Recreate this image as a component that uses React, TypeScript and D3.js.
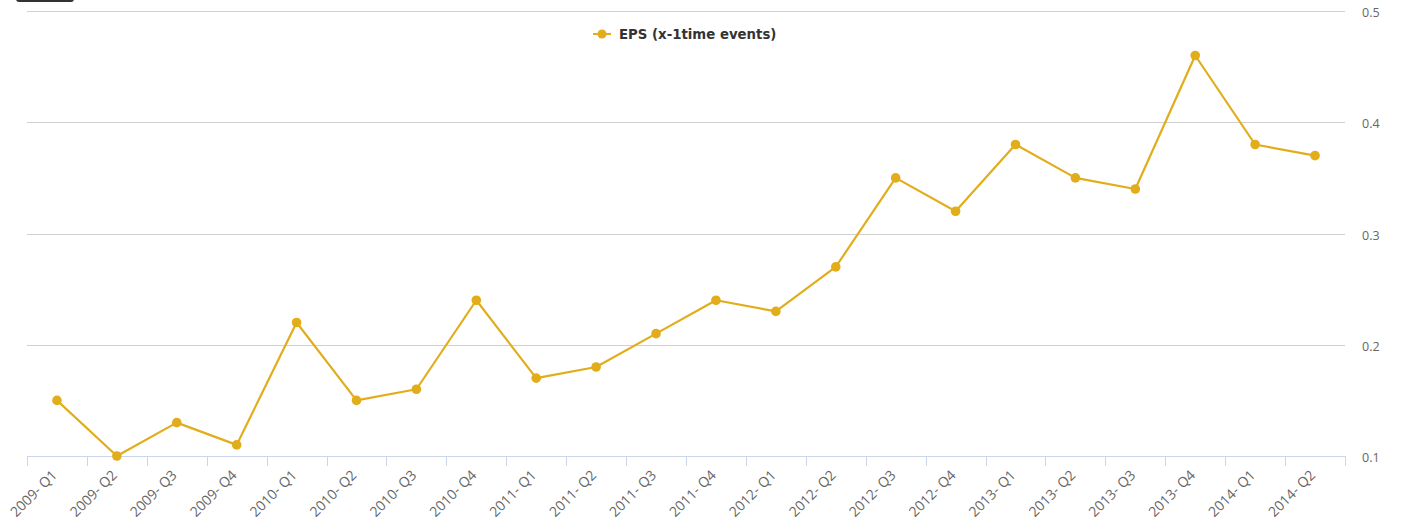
import React from 'react';
import * as d3 from 'd3';

const quarters = [
  '2009- Q1', '2009- Q2', '2009- Q3', '2009- Q4',
  '2010- Q1', '2010- Q2', '2010- Q3', '2010- Q4',
  '2011- Q1', '2011- Q2', '2011- Q3', '2011- Q4',
  '2012- Q1', '2012- Q2', '2012- Q3', '2012- Q4',
  '2013- Q1', '2013- Q2', '2013- Q3', '2013- Q4',
  '2014- Q1', '2014- Q2',
];
const eps = [
  0.15, 0.10, 0.13, 0.11,
  0.22, 0.15, 0.16, 0.24,
  0.17, 0.18, 0.21, 0.24,
  0.23, 0.27, 0.35, 0.32,
  0.38, 0.35, 0.34, 0.46,
  0.38, 0.37,
];
const yTicks = [0.1, 0.2, 0.3, 0.4, 0.5];
const seriesName = 'EPS (x-1time events)';

const W = 1406;
const H = 526;
const left = 27;
const right = 1345;
const top = 11;
const bottom = 456;
const color = '#e2ad1b';
const axisFont = '"Open Sans", "Noto Sans", sans-serif';
const legendFont = '"DejaVu Sans", Verdana, sans-serif';

export default function App() {
  const x = d3.scaleBand<string>().domain(quarters).range([left, right]);
  const y = d3.scaleLinear().domain([0.1, 0.5]).range([bottom, top]);
  const cx = (q: string) => (x(q) ?? 0) + x.bandwidth() / 2;

  const line = d3.line<number>()
    .x((_, i) => cx(quarters[i]))
    .y(d => y(d));

  const boundaries = quarters.map(q => x(q) ?? 0).concat([right]);

  return (
    <svg
      width={W}
      height={H}
      style={{ position: 'absolute', left: 0, top: 0, background: '#fff' }}
      fontFamily={axisFont}
    >
      {/* cut-off button at top left */}
      <rect x={16} y={-20} width={58} height={22} rx={3} fill="#333" />

      {/* grid */}
      {yTicks.filter(t => t !== 0.1).map(t => (
        <line key={t} x1={left} x2={right} y1={Math.round(y(t)) + 0.5} y2={Math.round(y(t)) + 0.5}
          stroke="#d0d0d0" strokeWidth={1} />
      ))}

      {/* x axis */}
      <line x1={left} x2={right} y1={bottom + 0.5} y2={bottom + 0.5} stroke="#ccd6eb" strokeWidth={1} />
      {boundaries.map((b, i) => (
        <line key={i} x1={Math.round(b) + 0.5} x2={Math.round(b) + 0.5} y1={bottom} y2={bottom + 10}
          stroke="#ccd6eb" strokeWidth={1} />
      ))}
      {quarters.map(q => (
        <text key={q}
          transform={`translate(${cx(q) + 1},${bottom + 20}) rotate(-45)`}
          textAnchor="end" fontSize={14} fill="#666">
          {q}
        </text>
      ))}

      {/* y axis labels on right */}
      {yTicks.map(t => (
        <text key={t} x={1362} y={y(t) + 6} fontSize={12.5} fill="#666">
          {d3.format('.1f')(t)}
        </text>
      ))}

      {/* series */}
      <path d={line(eps) ?? ''} fill="none" stroke={color} strokeWidth={2.2} strokeLinejoin="round" />
      {eps.map((v, i) => (
        <circle key={i} cx={cx(quarters[i])} cy={y(v)} r={4.8} fill={color} />
      ))}

      {/* legend */}
      <g transform="translate(593,34)">
        <line x1={0} x2={18} y1={0} y2={0} stroke={color} strokeWidth={2} />
        <circle cx={9} cy={0} r={4.5} fill={color} />
        <text x={26} y={4.5} fontSize={13.3} fontWeight="bold" fill="#333" fontFamily={legendFont}>{seriesName}</text>
      </g>
    </svg>
  );
}
